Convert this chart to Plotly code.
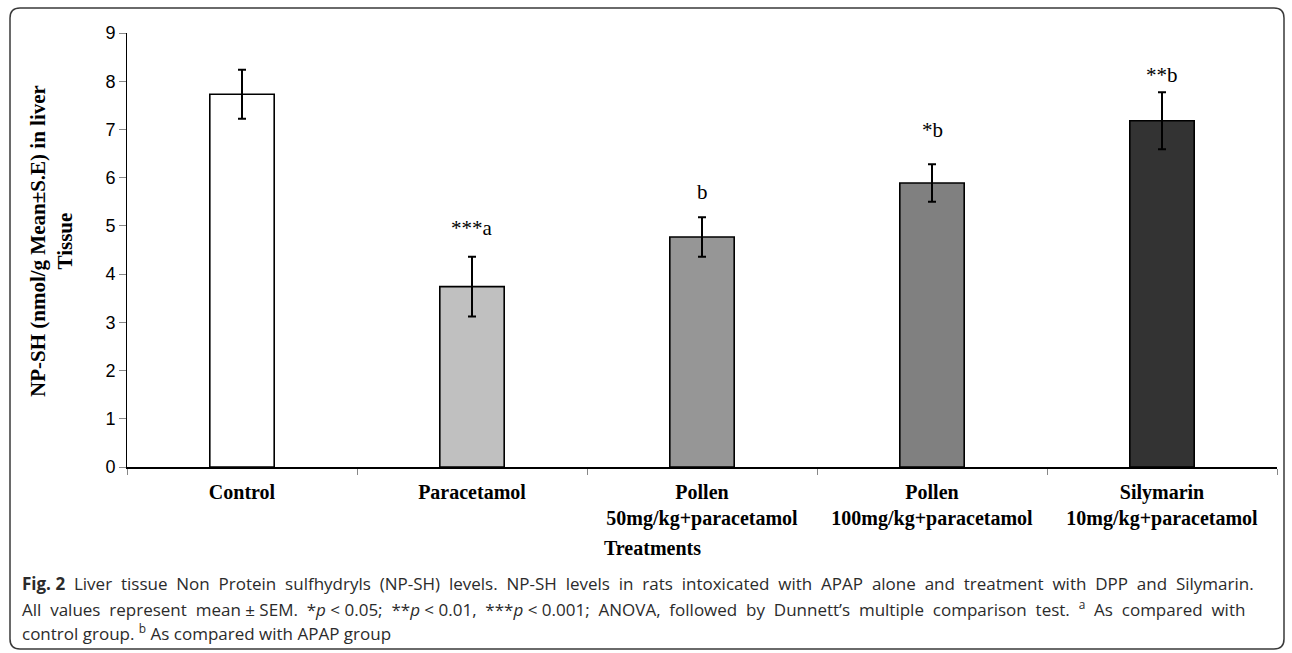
import plotly.graph_objects as go

# Treatment groups and measured NP-SH levels (mean ± SE)
categories = [
    "Control",
    "Paracetamol",
    "Pollen<br>50mg/kg+paracetamol",
    "Pollen<br>100mg/kg+paracetamol",
    "Silymarin<br>10mg/kg+paracetamol",
]
means = [7.73, 3.74, 4.77, 5.89, 7.18]
errors = [0.51, 0.62, 0.41, 0.39, 0.59]
bar_colors = ["#ffffff", "#c0c0c0", "#969696", "#808080", "#333333"]

# Significance markers and the heights at which they are printed
sig_labels = ["", "***a", "b", "*b", "**b"]
sig_heights = [None, 4.95, 5.70, 6.99, 8.12]

y_ticks = [0, 1, 2, 3, 4, 5, 6, 7, 8, 9]

W, H = 1292, 653
ML, MR, MT, MB = 127, 15, 33, 186
PW, PH = W - ML - MR, H - MT - MB


def px_x(x):
    return (x - ML) / PW


def px_y(y):
    return (H - MB - y) / PH


fig = go.Figure()
fig.add_trace(go.Bar(
    x=categories,
    y=means,
    marker=dict(color=bar_colors, line=dict(color="#000000", width=1.6)),
    error_y=dict(type="data", array=errors, visible=True,
                 color="#000000", thickness=2, width=4),
    width=0.28,
    showlegend=False,
))

serif = "Liberation Serif"

annotations = []
for cat, lab, h in zip(categories, sig_labels, sig_heights):
    if lab:
        annotations.append(dict(
            x=cat, y=h, xref="x", yref="y", text=lab, showarrow=False,
            font=dict(family=serif, size=21, color="#000000"),
            xanchor="center", yanchor="middle",
        ))

# y-axis title
annotations.append(dict(
    x=px_x(51), y=px_y(241), xref="paper", yref="paper",
    text="<b>NP-SH (nmol/g Mean±S.E) in liver<br>Tissue</b>",
    textangle=-90, showarrow=False,
    font=dict(family=serif, size=21, color="#000000"),
    xanchor="center", yanchor="middle",
))

# x-axis title
annotations.append(dict(
    x=px_x(652), y=px_y(548), xref="paper", yref="paper",
    text="<b>Treatments</b>", showarrow=False,
    font=dict(family=serif, size=20, color="#000000"),
    xanchor="center", yanchor="middle",
))

# figure caption (word gaps widened on the first two lines to fill the width)
GAP = " \u00a0"
caption_lines = [
    GAP.join([
        "<b>Fig. 2</b>", "Liver", "tissue", "Non", "Protein", "sulfhydryls", "(NP-SH)",
        "levels.", "NP-SH", "levels", "in", "rats", "intoxicated", "with", "APAP",
        "alone", "and", "treatment", "with", "DPP", "and", "Silymarin.",
    ]),
    GAP.join([
        "All", "values", "represent", "mean ± SEM.",
        "*<i>p</i> &lt; 0.05;", "**<i>p</i> &lt; 0.01,", "***<i>p</i> &lt; 0.001;",
        "ANOVA,", "followed", "by", "Dunnett’s", "multiple", "comparison", "test.",
        "<sup>a</sup>", "As", "compared", "with",
    ]),
    "control group. <sup>b</sup> As compared with APAP group",
]
caption_y = [583, 608, 632]
for line, yy in zip(caption_lines, caption_y):
    annotations.append(dict(
        x=px_x(20), y=px_y(yy), xref="paper", yref="paper",
        text=line, showarrow=False, align="left",
        font=dict(family="Open Sans", size=17, color="#2b2b2b"),
        xanchor="left", yanchor="middle",
    ))

# rounded frame around the whole figure
x0, x1, y0, y1, r = 10, 1284, 8, 649, 10
X0, X1 = px_x(x0), px_x(x1)
Y0, Y1 = px_y(y0), px_y(y1)
rx, ry = r / PW, r / PH
path = (
    f"M {X0 + rx},{Y0} L {X1 - rx},{Y0} Q {X1},{Y0} {X1},{Y0 - ry} "
    f"L {X1},{Y1 + ry} Q {X1},{Y1} {X1 - rx},{Y1} "
    f"L {X0 + rx},{Y1} Q {X0},{Y1} {X0},{Y1 + ry} "
    f"L {X0},{Y0 - ry} Q {X0},{Y0} {X0 + rx},{Y0} Z"
)

fig.update_layout(
    width=W, height=H,
    margin=dict(l=ML, r=MR, t=MT, b=MB, autoexpand=False),
    paper_bgcolor="#ffffff",
    plot_bgcolor="#ffffff",
    bargap=0.72,
    annotations=annotations,
    shapes=[dict(type="path", path=path, xref="paper", yref="paper",
                 line=dict(color="#3a3a3a", width=1.5), layer="above")],
    xaxis=dict(
        showline=True, linecolor="#000000", linewidth=1.5,
        ticks="outside", tickson="boundaries", ticklen=6, tickcolor="#888888",
        tickfont=dict(family=serif, size=20, color="#000000"),
        ticklabelstandoff=6,
        showgrid=False, zeroline=False, fixedrange=True,
        tickprefix="<b>", ticksuffix="</b>",
    ),
    yaxis=dict(
        range=[0, 9], tickvals=y_ticks,
        showline=True, linecolor="#000000", linewidth=1,
        ticks="outside", ticklen=7, tickcolor="#888888",
        tickfont=dict(family="Liberation Sans", size=18, color="#000000"),
        showgrid=False, zeroline=False, fixedrange=True,
    ),
)

fig.write_html("out.html")
